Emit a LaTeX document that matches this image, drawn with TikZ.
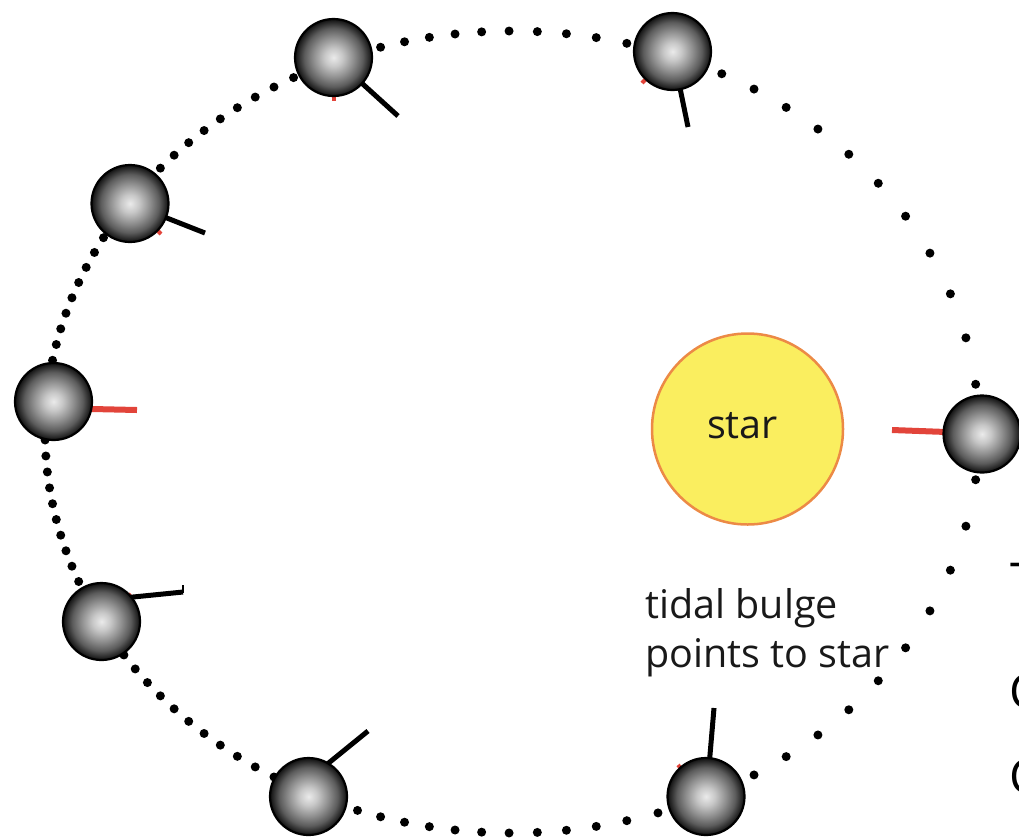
\documentclass[tikz,border=0pt]{standalone}
\usepackage{fontspec}
\setmainfont{Open Sans}

% grey sphere: light centre darkening towards the rim
\pgfdeclareradialshading{planetshade}{\pgfpoint{0bp}{0bp}}{%
  color(0bp)=(black!8); color(6bp)=(black!22); color(13bp)=(black!44);
  color(19bp)=(black!64); color(23bp)=(black!84); color(25bp)=(black!94);
  color(50bp)=(black!94)}

\definecolor{starfill}{RGB}{250,238,95}
\definecolor{starrim}{RGB}{236,138,70}
\definecolor{bulgered}{RGB}{226,68,58}

\begin{document}
\begin{tikzpicture}[x=1pt,y=-1pt,
  planet/.style={circle, minimum size=77pt, inner sep=0pt, shading=planetshade,
                 draw=black, line width=2.2pt},
  orbitdot/.style={circle, fill=black, inner sep=0pt, minimum size=9pt},
  bulge/.style={line width=5pt, black},
  tostar/.style={line width=6pt, bulgered},
  stub/.style={line width=4pt, bulgered},
  captext/.style={font=\fontsize{39.5}{46}\selectfont, text=black!90, inner sep=0pt},
  edgetext/.style={font=\fontsize{48}{56}\selectfont, text=black, inner sep=0pt},
]
\path[use as bounding box] (0,0) rectangle (1019,839);
\clip (0,0) rectangle (1019,839);

% orbit: dots at equal time steps (Kepler, e = 0.5), star at the right focus
\foreach \i in {0,...,104}{
  \pgfmathsetmacro\M{3.428571*\i}
  \global\let\Ecc\M
  \foreach \k in {1,...,18}{%
    \pgfmathparse{\M+28.6479*sin(\Ecc)}\global\let\Ecc\pgfmathresult}
  \node[orbitdot] (d\i) at ({512+467*cos(\Ecc)},{432-401*sin(\Ecc)}) {};
}

% planet centres
\coordinate (c1) at (333.5,57.5);
\coordinate (c2) at (672.5,51.5);
\coordinate (c3) at (130,203.5);
\coordinate (c4) at (53.5,401.5);
\coordinate (c5) at (982,434);
\coordinate (c6) at (101.5,621.5);
\coordinate (c7) at (308.5,796.5);
\coordinate (c8) at (706,796.5);

% ends of the bulge axes
\coordinate (b1) at (398,116);
\coordinate (b2) at (688,127);
\coordinate (b3) at (205,233);
\coordinate (s6) at (120,598.3);
\coordinate (b6) at (183,592);
\coordinate (t6a) at (183,585);
\coordinate (t6b) at (183,593);
\coordinate (s7) at (320,770);
\coordinate (b7) at (368,731);
\coordinate (s8) at (707,790);
\coordinate (b8) at (714,708);

% short red marks
\coordinate (r1) at (333.5,101);
\coordinate (r2) at (642,83);
\coordinate (r3) at (161,234);
\coordinate (s4) at (70,408.5);
\coordinate (r4) at (137,410);
\coordinate (s5) at (960,432.5);
\coordinate (r5) at (892,430);
\coordinate (r6) at (131,594);
\coordinate (r8) at (678,765);

\draw[stub] (c1) -- (r1);
\draw[stub] (c2) -- (r2);
\draw[stub] (c3) -- (r3);
\draw[tostar] (s4) -- (r4);
\draw[tostar] (s5) -- (r5);
\draw[stub] (c6) -- (r6);
\draw[stub] (c8) -- (r8);

\draw[bulge] (c1) -- (b1);
\draw[bulge] (c2) -- (b2);
\draw[bulge] (c3) -- (b3);
\draw[bulge] (s6) -- (b6);
\draw[line width=1.2pt] (t6a) -- (t6b);
\draw[bulge] (s7) -- (b7);
\draw[bulge] (s8) -- (b8);

% planets
\foreach \n in {1,...,8}{\node[planet] (p\n) at (c\n) {};}

% star
\node[circle, minimum size=191pt, inner sep=0pt, fill=starfill, draw=starrim,
      line width=2.5pt] (star) at (747.5,429) {};
\node[captext, anchor=base] (starlbl) at (742.5,438) {star};

% caption
\node[captext, anchor=base west] (cap1) at (645,618) {tidal bulge};
\node[captext, anchor=base west] (cap2) at (645,667) {points to star};

% text running off the right edge
\node[edgetext, anchor=base west] (e1) at (1010,597) {T};
\node[edgetext, anchor=base west] (e2) at (1009,708) {C};
\node[edgetext, anchor=base west] (e3) at (1009,793) {C};
\end{tikzpicture}
\end{document}
